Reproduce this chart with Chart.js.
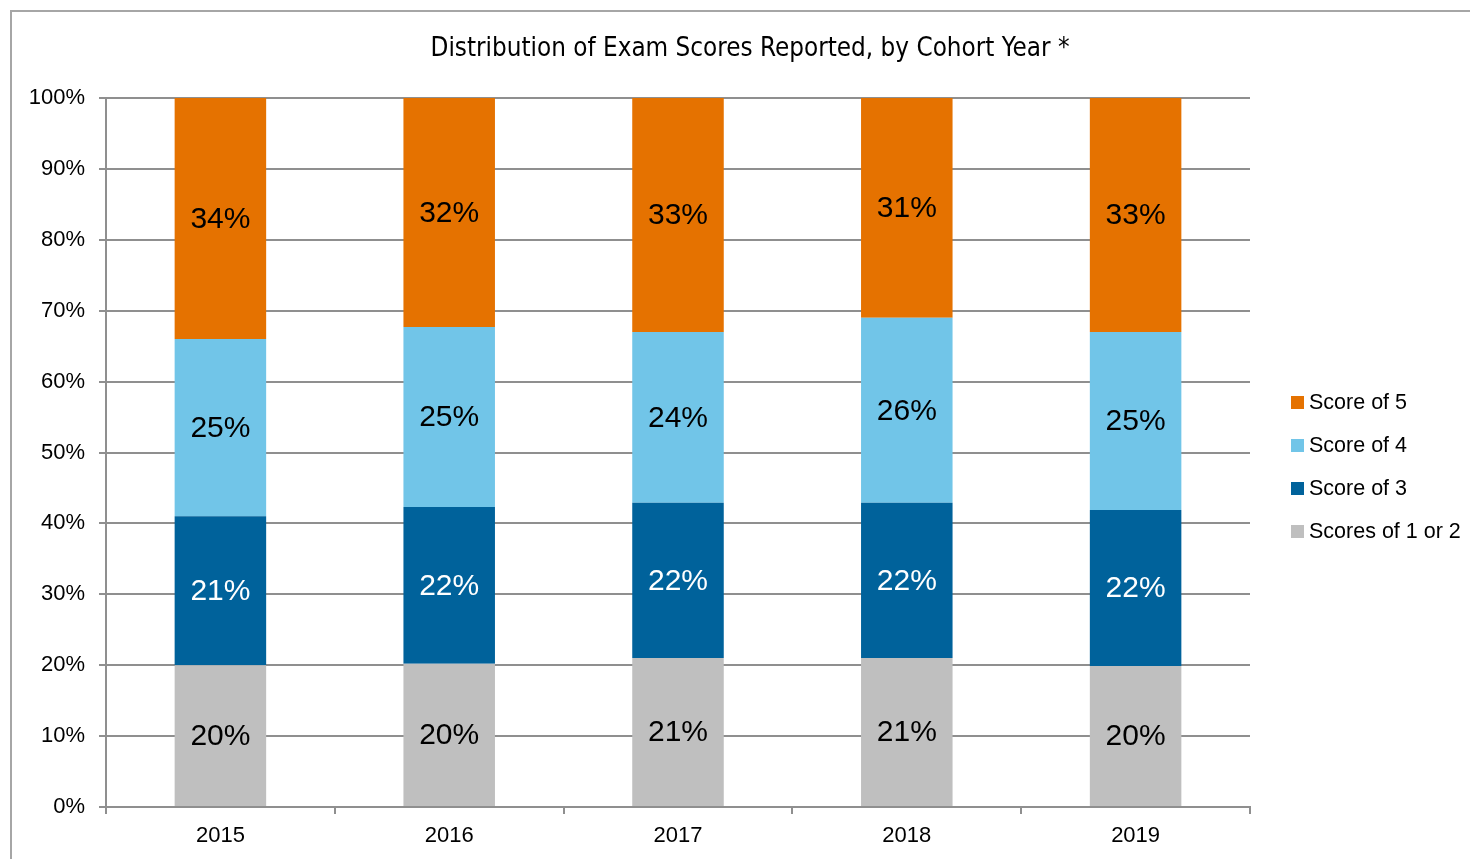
<!DOCTYPE html>
<html>
<head>
<meta charset="utf-8">
<script src="https://cdn.jsdelivr.net/npm/chart.js@4/dist/chart.umd.min.js"></script>
<style>
  html, body { margin: 0; padding: 0; background: #ffffff; overflow: hidden; }
  .frame { position: absolute; left: 10px; top: 10px; width: 1480px; height: 870px; border: 2px solid #a6a6a6; box-sizing: border-box; }
  .wrap { position: absolute; left: 0; top: 0; width: 1470px; height: 859px; }
</style>
</head>
<body>
<div class="frame"></div>
<div class="wrap"><canvas id="examChart"></canvas></div>
<script>
  // cohort years
  const years = ['2015', '2016', '2017', '2018', '2019'];

  // shares per score band (%)
  const scores12 = [20, 20.2, 21, 21, 19.9];
  const score3 = [21, 22.1, 21.9, 21.9, 22];
  const score4 = [25, 25.4, 24.1, 26.1, 25.1];
  const score5 = [34, 32.3, 33, 31, 33];

  // printed labels on each segment
  const labels12 = ['20%', '20%', '21%', '21%', '20%'];
  const labels3 = ['21%', '22%', '22%', '22%', '22%'];
  const labels4 = ['25%', '25%', '24%', '26%', '25%'];
  const labels5 = ['34%', '32%', '33%', '31%', '33%'];

  const yTicks = [0, 10, 20, 30, 40, 50, 60, 70, 80, 90, 100];

  const FONT = '"Liberation Sans", Arial, sans-serif';
  const gridColor = '#8f8f8f';

  const datasets = [
    { label: 'Scores of 1 or 2', data: scores12, texts: labels12, backgroundColor: '#bfbfbf', textColor: '#000000' },
    { label: 'Score of 3', data: score3, texts: labels3, backgroundColor: '#00629b', textColor: '#ffffff' },
    { label: 'Score of 4', data: score4, texts: labels4, backgroundColor: '#71c5e8', textColor: '#000000' },
    { label: 'Score of 5', data: score5, texts: labels5, backgroundColor: '#e57200', textColor: '#000000' },
  ];

  // segment labels, title and legend
  const extras = {
    id: 'extras',
    afterDatasetsDraw(chart) {
      const ctx = chart.ctx;
      ctx.save();
      ctx.textAlign = 'center';
      ctx.textBaseline = 'middle';
      ctx.font = '30px ' + FONT;
      chart.data.datasets.forEach((ds, i) => {
        chart.getDatasetMeta(i).data.forEach((bar, j) => {
          const mid = (bar.y + bar.base) / 2;
          ctx.fillStyle = ds.textColor;
          ctx.fillText(ds.texts[j], bar.x, mid + 1);
        });
      });

      // title
      ctx.fillStyle = '#000000';
      ctx.font = '25.8px "Liberation Sans Narrow", "DejaVu Sans Condensed", sans-serif';
      ctx.fillText('Distribution of Exam Scores Reported, by Cohort Year *', 750, 49);

      // legend, top item = top of the stack
      ctx.textAlign = 'left';
      ctx.font = '21.5px ' + FONT;
      const order = chart.data.datasets.slice().reverse();
      order.forEach((ds, k) => {
        const y = 402 + k * 43;
        ctx.fillStyle = ds.backgroundColor;
        ctx.fillRect(1291, y - 6, 13, 13);
        ctx.fillStyle = '#000000';
        ctx.fillText(ds.label, 1309, y + 1);
      });
      ctx.restore();
    },
  };

  new Chart(document.getElementById('examChart'), {
    type: 'bar',
    data: {
      labels: years,
      datasets: datasets.map((d) => ({
        label: d.label,
        data: d.data,
        texts: d.texts,
        textColor: d.textColor,
        backgroundColor: d.backgroundColor,
        borderWidth: 0,
        categoryPercentage: 0.4,
        barPercentage: 1.0,
      })),
    },
    options: {
      responsive: true,
      maintainAspectRatio: false,
      animation: false,
      layout: {
        padding: { left: 0, top: 98, right: 220, bottom: 0 },
      },
      plugins: {
        legend: { display: false },
        title: { display: false },
        tooltip: { enabled: false },
      },
      scales: {
        x: {
          stacked: true,
          afterFit: (scale) => { scale.height = 52; },
          grid: {
            display: true,
            offset: true,
            drawOnChartArea: false,
            drawTicks: true,
            tickLength: 7,
            color: gridColor,
            lineWidth: 2,
          },
          border: { display: true, color: gridColor, width: 2 },
          ticks: {
            color: '#000000',
            padding: 9,
            font: { family: FONT, size: 22 },
          },
        },
        y: {
          stacked: true,
          min: 0,
          max: 100,
          afterFit: (scale) => { scale.width = 106; },
          afterBuildTicks: (scale) => { scale.ticks = yTicks.map((v) => ({ value: v })); },
          grid: {
            color: gridColor,
            lineWidth: 2,
            drawTicks: true,
            tickLength: 7,
          },
          border: { display: true, color: gridColor, width: 2 },
          ticks: {
            color: '#000000',
            padding: 14,
            font: { family: FONT, size: 22 },
            callback: (v) => v + '%',
          },
        },
      },
    },
    plugins: [extras],
  });
</script>
</body>
</html>
